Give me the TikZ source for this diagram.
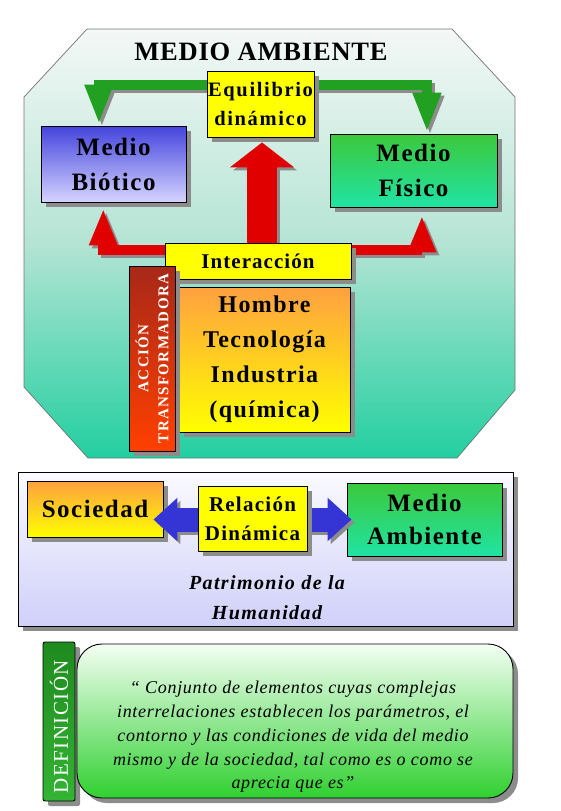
\documentclass[tikz,border=0pt]{standalone}
\usepackage{fontspec}
\setmainfont{Liberation Serif}
\usetikzlibrary{shadows,arrows.meta,calc}
\pgfdeclarelayer{bg}
\pgfdeclarelayer{arr}
\pgfsetlayers{bg,arr,main}
\definecolor{ygold}{HTML}{FFFF00}
\definecolor{org}{HTML}{FFA040}
\definecolor{bluetop}{HTML}{4444DD}
\definecolor{bluebot}{HTML}{D4D4FF}
\definecolor{grtop}{HTML}{3CC83C}
\definecolor{grbot}{HTML}{20E4A4}
\definecolor{arrred}{HTML}{E00000}
\definecolor{arrgreen}{HTML}{22A022}
\definecolor{arrblue}{HTML}{3535D5}
\definecolor{octtop}{HTML}{F4F8F6}
\definecolor{octmid}{HTML}{B4E4D4}
\definecolor{octbot}{HTML}{22CFA0}
\definecolor{acctop}{HTML}{A82818}
\definecolor{accbot}{HTML}{FF4000}
\definecolor{deftop}{HTML}{F4FFF4}
\definecolor{defbot}{HTML}{30D030}
\definecolor{tabtop}{HTML}{1E8A1E}
\definecolor{tabbot}{HTML}{34B434}
\definecolor{pantop}{HTML}{FAFAFF}
\definecolor{panbot}{HTML}{D0D0FA}
\definecolor{shad}{HTML}{8C8C8C}
\newcommand{\lsp}[1]{\addfontfeature{LetterSpace=#1}}
\tikzset{
  box/.style={draw=black, line width=0.9pt, inner sep=0pt, align=center,
    drop shadow={shadow xshift=5pt, shadow yshift=-5pt, fill=shad, opacity=1}},
  bigfont/.style={font=\fontsize{25}{35}\selectfont\bfseries\lsp{6}},
  garrow/.style={draw=arrgreen, line width=10pt, line join=miter, -{Triangle[width=26pt,length=40pt]}},
  rarrow/.style={draw=arrred, line width=10pt, line join=miter, -{Triangle[width=26pt,length=37pt]}},
  bigrarrow/.style={draw=arrred, line width=30pt, -{Triangle[width=63pt,length=25pt]}},
  barrow/.style={draw=arrblue, line width=24pt, {Triangle[width=42pt,length=24pt]}-{Triangle[width=42pt,length=24pt]}},
  shadowed/.style={draw=shad, transform canvas={shift={(3pt,-3pt)}}},
}
\begin{document}
\begin{tikzpicture}[x=1pt,y=-1pt]
\useasboundingbox (0,0) rectangle (560,811);
\begin{pgfonlayer}{bg}
\draw[draw=black!55, line width=0.7pt, top color=octtop, bottom color=octbot, middle color=octmid]
  (87,29) -- (452,29) -- (515,97) -- (515,390) -- (457,458) -- (88,458) -- (24,387) -- (24,97) -- cycle;
\end{pgfonlayer}
\node[font=\fontsize{26.5}{30}\selectfont\bfseries\lsp{3}] (title) at (261,52) {MEDIO AMBIENTE};
\node[box, fill=ygold, minimum width=107pt, minimum height=66pt, font=\fontsize{20.5}{29}\selectfont\bfseries\lsp{8}] (eq) at (260.5,104) {Equilibrio\\dinámico};
\node[box, top color=bluetop, bottom color=bluebot, minimum width=145pt, minimum height=76pt, bigfont] (bio) at (113.5,164) {Medio\\Biótico};
\node[box, top color=grtop, bottom color=grbot, minimum width=167pt, minimum height=73pt, bigfont] (fis) at (413.5,170.5) {Medio\\Físico};
\node[box, fill=ygold, minimum width=186pt, minimum height=36pt, font=\fontsize{21}{25}\selectfont\bfseries\lsp{5}] (inter) at (258,261) {Interacción};
\node[box, top color=org, bottom color=ygold, minimum width=171pt, minimum height=145pt, font=\fontsize{24}{35}\selectfont\bfseries\lsp{6}] (hom) at (264.5,359.5) {Hombre\\Tecnología\\Industria\\(química)};
\node[box, top color=acctop, bottom color=accbot, minimum width=46pt, minimum height=185pt] (acc) at (152,358.5) {};
\node[rotate=90, text=white, align=center, font=\fontsize{15}{20}\selectfont\bfseries\lsp{9}] (acctext) at (acc.center) {ACCIÓN\\TRANSFORMADORA};
\begin{pgfonlayer}{arr}
\coordinate (gl) at ($(eq.north west)!0.21!(eq.south west)$);
\coordinate (gr) at ($(eq.north east)!0.21!(eq.south east)$);
\coordinate (rl) at ($(inter.north west)!0.19!(inter.south west)$);
\coordinate (rr) at ($(inter.north east)!0.19!(inter.south east)$);
\draw[garrow, shadowed] (gl) -| ($(bio.north west)!0.4!(bio.north east)+(0,-1)$);
\draw[garrow] (gl) -| ($(bio.north west)!0.4!(bio.north east)+(0,-1)$);
\draw[garrow, shadowed] (gr) -| ($(fis.north west)!0.58!(fis.north east)+(0,-1)$);
\draw[garrow] (gr) -| ($(fis.north west)!0.58!(fis.north east)+(0,-1)$);
\draw[bigrarrow, shadowed] ($(inter.north)+(4,10)$) -- ($(eq.south)+(1.5,5)$);
\draw[bigrarrow] ($(inter.north)+(4,10)$) -- ($(eq.south)+(1.5,5)$);
\draw[rarrow, shadowed] (rl) -| ($(bio.south west)!0.43!(bio.south east)+(0,6)$);
\draw[rarrow] (rl) -| ($(bio.south west)!0.43!(bio.south east)+(0,6)$);
\draw[rarrow, shadowed] (rr) -| ($(fis.south west)!0.55!(fis.south east)+(0,8)$);
\draw[rarrow] (rr) -| ($(fis.south west)!0.55!(fis.south east)+(0,8)$);
\end{pgfonlayer}
\node[box, top color=pantop, bottom color=panbot, minimum width=495pt, minimum height=154pt] (panel) at (265.5,549) {};
\node[box, top color=org, bottom color=ygold, minimum width=136pt, minimum height=56pt, bigfont] (soc) at (95,509) {Sociedad};
\node[box, top color=grtop, bottom color=grbot, minimum width=155pt, minimum height=73pt, font=\fontsize{25}{33}\selectfont\bfseries\lsp{6}] (ma) at (424.5,519.5) {Medio\\Ambiente};
\draw[barrow, shadowed] ($(soc.east |- ma.center)+(-10,0)$) -- ($(ma.west)+(5,0)$);
\draw[barrow] ($(soc.east |- ma.center)+(-10,0)$) -- ($(ma.west)+(5,0)$);
\node[box, fill=ygold, minimum width=109pt, minimum height=65pt, font=\fontsize{21}{29}\selectfont\bfseries\lsp{6}] (rel) at (252.5,518.5) {Relación\\Dinámica};
\node[align=center, font=\fontsize{20}{30}\selectfont\bfseries\itshape\lsp{7}] (pat) at (267,598) {Patrimonio de la\\Humanidad};
\node[box, rounded corners=2pt, top color=tabtop, bottom color=tabbot, minimum width=32pt, minimum height=159pt] (tab) at (59,721.5) {};
\node[rotate=90, text=white, font=\fontsize{21}{24}\selectfont\lsp{7}] (tabtext) at ($(tab.center)+(0,5)$) {DEFINICIÓN};
\node[box, rounded corners=25pt, top color=deftop, bottom color=defbot, minimum width=436pt, minimum height=154pt] (def) at (295,721) {};
\node[align=center, font=\fontsize{18}{23.7}\selectfont\itshape\lsp{4}] (deftext) at (293,737) {“ Conjunto de elementos cuyas complejas\\interrelaciones establecen los parámetros, el\\contorno y las condiciones de vida del medio\\mismo y de la sociedad, tal como es o como se\\aprecia que es”};
\end{tikzpicture}
\end{document}
